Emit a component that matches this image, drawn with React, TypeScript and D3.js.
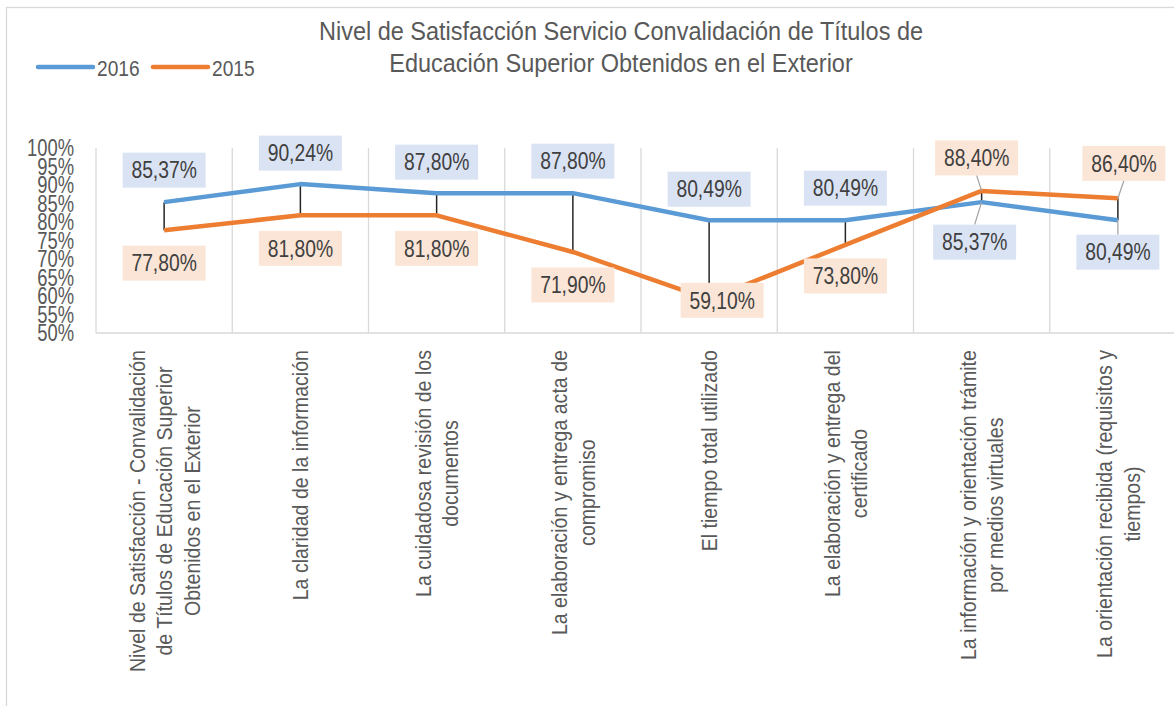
import React, { useEffect, useRef } from "react";
import * as d3 from "d3";

const categories = [
  "Nivel de Satisfacción - Convalidación\nde Títulos de Educación Superior\nObtenidos en el Exterior",
  "La claridad de la información",
  "La cuidadosa revisión de los\ndocumentos",
  "La elaboración y entrega acta de\ncompromiso",
  "El tiempo total utilizado",
  "La elaboración y entrega del\ncertificado",
  "La información y orientación trámite\npor medios virtuales",
  "La orientación recibida (requisitos y\ntiempos)",
];
const values2016 = [85.37, 90.24, 87.8, 87.8, 80.49, 80.49, 85.37, 80.49];
const values2015 = [77.8, 81.8, 81.8, 71.9, 59.1, 73.8, 88.4, 86.4];
const seriesNames = ["2016", "2015"];
const yTicks = [50, 55, 60, 65, 70, 75, 80, 85, 90, 95, 100];
const titleLines = [
  "Nivel de Satisfacción Servicio Convalidación de Títulos de",
  "Educación Superior Obtenidos en el Exterior",
];

// label layout (pixel offsets from the point), not data
const offsets2016 = [[0, -32], [0, -31], [0, -31], [0, -32], [0, -31], [0, -32], [-7, 40], [0, 32]];
const offsets2015 = [[0, 33], [0, 33], [0, 33], [0, 33], [13, 1], [0, 31], [-5, -33], [6, -35]];
const leaderIdx = [6, 7];

const FONT = "'Liberation Sans', Arial, sans-serif";
// horizontal squeeze factors to mimic the narrow face
const SX_TITLE = 0.94, SX_XLAB = 0.89, SX_DATA = 0.84, SX_Y = 0.8, SX_LEG = 0.87;
const W = 1174, H = 706;
const BLUE = "#5B9BD5", ORANGE = "#ED7D31";
const BLUE_BG = "#DAE3F3", ORANGE_BG = "#FBE5D6";

const fmt = (v: number) => v.toFixed(2).replace(".", ",") + "%";

export default function App() {
  const ref = useRef<SVGSVGElement>(null);
  useEffect(() => {
    const svg = d3.select(ref.current);
    svg.selectAll("*").remove();

    const addText = (parent: any, x: number, y: number, txt: string, size: number, fill: string, anchor: string, sx: number, dy = "0") => {
      const g = parent.append("g").attr("transform", `translate(${x},${y}) scale(${sx},1)`);
      return g.append("text").attr("text-anchor", anchor).attr("dy", dy).attr("font-family", FONT)
        .attr("font-size", size).attr("fill", fill).text(txt);
    };

    const left = 96, top = 148, bottom = 333;
    const step = 136.25;
    const x = d3.scaleBand<string>().domain(categories).range([left, left + step * categories.length]);
    const cx = (i: number) => (x(categories[i]) as number) + x.bandwidth() / 2;
    const y = d3.scaleLinear().domain([50, 100]).range([bottom, top]);

    // frame
    svg.append("rect").attr("x", 6.5).attr("y", 7.5).attr("width", 1300).attr("height", 900)
      .attr("fill", "white").attr("stroke", "#d9d9d9").attr("stroke-width", 1.3);

    // title
    titleLines.forEach((l, i) => addText(svg, 621, 40 + i * 32, l, 25, "#595959", "middle", SX_TITLE));

    // legend
    const legendX = [38, 153];
    [BLUE, ORANGE].forEach((c, i) => {
      svg.append("line").attr("x1", legendX[i]).attr("x2", legendX[i] + 55).attr("y1", 67).attr("y2", 67)
        .attr("stroke", c).attr("stroke-width", 4.5).attr("stroke-linecap", "round");
      addText(svg, legendX[i] + 59, 75.5, seriesNames[i], 22, "#595959", "start", SX_LEG);
    });

    // gridlines
    const edges = d3.range(categories.length + 1).map((i) => left + i * step);
    svg.append("g").selectAll("line").data(edges).join("line")
      .attr("x1", (d) => d).attr("x2", (d) => d).attr("y1", top).attr("y2", bottom)
      .attr("stroke", "#d9d9d9").attr("stroke-width", 1.3);
    svg.append("line").attr("x1", left).attr("x2", left + step * categories.length)
      .attr("y1", bottom).attr("y2", bottom).attr("stroke", "#d9d9d9").attr("stroke-width", 1.5);

    // y labels
    yTicks.forEach((d) => addText(svg, 74, y(d), d + "%", 23, "#595959", "end", SX_Y, "0.36em"));

    // x labels
    const lh = 27.5;
    categories.forEach((c, i) => {
      const lines = c.split("\n");
      const g = svg.append("g").attr("transform", `translate(${cx(i)},350) rotate(-90)`);
      const subs = lines.map((l, j) => {
        const sg = g.append("g");
        const tx = sg.append("text").attr("dy", "0.36em").attr("text-anchor", "middle")
          .attr("font-family", FONT).attr("font-size", 22).attr("fill", "#595959").text(l);
        return { sg, tx, j };
      });
      const maxW = (d3.max(subs, (s) => (s.tx.node() as SVGTextElement).getComputedTextLength()) || 0) * SX_XLAB;
      subs.forEach((s) =>
        s.sg.attr("transform", `translate(${-maxW / 2},${(s.j - (lines.length - 1) / 2) * lh}) scale(${SX_XLAB},1)`)
      );
    });

    // high-low lines
    svg.append("g").selectAll("line").data(values2016).join("line")
      .attr("x1", (_, i) => cx(i)).attr("x2", (_, i) => cx(i))
      .attr("y1", (d) => y(d)).attr("y2", (_, i) => y(values2015[i]))
      .attr("stroke", "#262626").attr("stroke-width", 1.5);

    // lines
    const line = d3.line<number>().x((_, i) => cx(i)).y((d) => y(d));
    [[values2016, BLUE], [values2015, ORANGE]].forEach(([vals, c]) => {
      svg.append("path").attr("d", line(vals as number[])).attr("fill", "none")
        .attr("stroke", c as string).attr("stroke-width", 4.5).attr("stroke-linejoin", "round");
    });

    // data labels
    const drawLabels = (vals: number[], offs: number[][], bg: string) => {
      vals.forEach((v, i) => {
        const px = cx(i), py = y(v);
        const lx = px + offs[i][0], ly = py + offs[i][1];
        const bw = 83, bh = 35;
        if (leaderIdx.includes(i)) {
          const edgeY = ly > py ? ly - bh / 2 : ly + bh / 2;
          svg.append("line").attr("x1", lx).attr("y1", edgeY).attr("x2", px).attr("y2", py)
            .attr("stroke", "#a6a6a6").attr("stroke-width", 1.3);
        }
        svg.append("rect").attr("x", lx - bw / 2).attr("y", ly - bh / 2).attr("width", bw).attr("height", bh)
          .attr("fill", bg);
        addText(svg, lx, ly, fmt(v), 23, "#404040", "middle", SX_DATA, "0.36em");
      });
    };
    drawLabels(values2016, offsets2016, BLUE_BG);
    drawLabels(values2015, offsets2015, ORANGE_BG);
  }, []);

  return (
    <div style={{ position: "absolute", left: 0, top: 0 }}>
      <svg ref={ref} width={W} height={H} style={{ display: "block" }} />
    </div>
  );
}
